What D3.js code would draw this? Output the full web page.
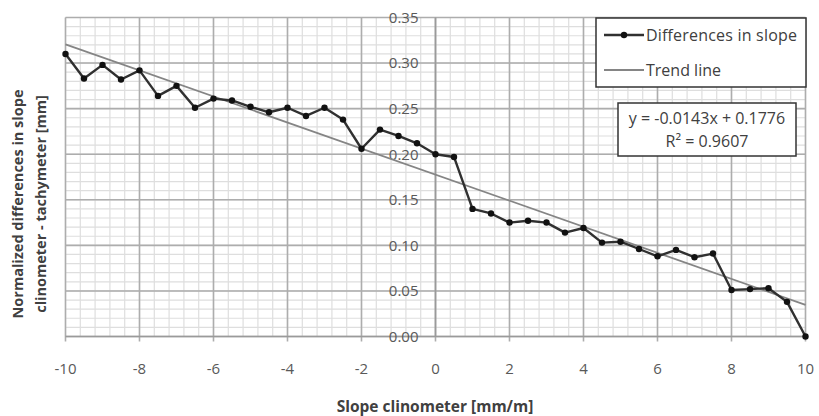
<!DOCTYPE html>
<html><head><meta charset="utf-8">
<script src="https://cdn.jsdelivr.net/npm/d3@7"></script>
<style>body{margin:0;background:#fff}svg{display:block}</style>
</head><body>
<svg id="c" width="819" height="416"></svg>
<script>
const xValues = [-10,-9.5,-9,-8.5,-8,-7.5,-7,-6.5,-6,-5.5,-5,-4.5,-4,-3.5,-3,-2.5,-2,-1.5,-1,-0.5,0,0.5,1,1.5,2,2.5,3,3.5,4,4.5,5,5.5,6,6.5,7,7.5,8,8.5,9,9.5,10];
const diffValues = [0.310,0.283,0.298,0.282,0.292,0.264,0.275,0.251,0.261,0.259,0.252,0.246,0.251,0.242,0.251,0.238,0.206,0.227,0.220,0.212,0.200,0.197,0.140,0.135,0.125,0.127,0.125,0.114,0.119,0.103,0.104,0.096,0.088,0.095,0.087,0.091,0.051,0.052,0.053,0.038,0.000];
const xTicks = [-10,-8,-6,-4,-2,0,2,4,6,8,10];
const yTicks = [0,0.05,0.10,0.15,0.20,0.25,0.30,0.35];
const trendSlope = -0.0143, trendIntercept = 0.1776;
const legendLabels = ["Differences in slope","Trend line"];
const eqLines = ["y = -0.0143x + 0.1776","R² = 0.9607"];

const svg = d3.select("#c");
const x = d3.scaleLinear().domain([-10,10]).range([65.5,805.5]);
const y = d3.scaleLinear().domain([0,0.35]).range([336.5,17.5]);
const font = "'Open Sans', sans-serif";

// minor grid
const g = svg.append("g");
g.selectAll(".mx").data(d3.range(-10,10.001,0.4)).join("line")
  .attr("x1",d=>x(d)).attr("x2",d=>x(d)).attr("y1",y(0)).attr("y2",y(0.35))
  .attr("stroke","#dedede").attr("stroke-width",1.2);
g.selectAll(".my").data(d3.range(0,0.3501,0.01)).join("line")
  .attr("y1",d=>y(d)).attr("y2",d=>y(d)).attr("x1",x(-10)).attr("x2",x(10))
  .attr("stroke","#dedede").attr("stroke-width",1.2);
// major grid
g.selectAll(".Mx").data(xTicks).join("line")
  .attr("x1",d=>x(d)).attr("x2",d=>x(d)).attr("y1",y(0)+5).attr("y2",y(0.35))
  .attr("stroke","#adadad").attr("stroke-width",1.6);
g.selectAll(".My").data(yTicks).join("line")
  .attr("y1",d=>y(d)).attr("y2",d=>y(d)).attr("x1",x(-10)).attr("x2",x(10))
  .attr("stroke","#adadad").attr("stroke-width",1.6);
// axes lines
svg.append("line").attr("x1",x(0)).attr("x2",x(0)).attr("y1",y(0)).attr("y2",y(0.35)).attr("stroke","#9a9a9a").attr("stroke-width",1.6);
svg.append("line").attr("x1",x(-10)).attr("x2",x(10)).attr("y1",y(0)).attr("y2",y(0)).attr("stroke","#9a9a9a").attr("stroke-width",1.6);

// tick labels
svg.selectAll(".yl").data(yTicks).join("text")
  .attr("x",x(0)-17).attr("y",d=>y(d)).attr("dy","0.36em").attr("text-anchor","end")
  .attr("font-family",font).attr("font-size",15).attr("fill","#595959")
  .text(d=>d3.format(".2f")(d));
svg.selectAll(".xl").data(xTicks).join("text")
  .attr("x",d=>x(d)).attr("y",374).attr("text-anchor","middle")
  .attr("font-family",font).attr("font-size",15).attr("fill","#595959")
  .text(d=>d);

// trend line
svg.append("line")
  .attr("x1",x(-10)).attr("y1",y(trendSlope*-10+trendIntercept))
  .attr("x2",x(10)).attr("y2",y(trendSlope*10+trendIntercept))
  .attr("stroke","#858585").attr("stroke-width",1.8);

// data line
const pts = xValues.map((v,i)=>[v,diffValues[i]]);
svg.append("path").datum(pts)
  .attr("d",d3.line().x(d=>x(d[0])).y(d=>y(d[1])))
  .attr("fill","none").attr("stroke","#303030").attr("stroke-width",2.4).attr("stroke-linejoin","round");
svg.selectAll(".pt").data(pts).join("circle")
  .attr("cx",d=>x(d[0])).attr("cy",d=>y(d[1])).attr("r",3.2).attr("fill","#111");

// legend
const lg = svg.append("g");
lg.append("rect").attr("x",596).attr("y",18).attr("width",210).attr("height",69)
  .attr("fill","#fff").attr("stroke","#333").attr("stroke-width",1.5);
lg.append("line").attr("x1",604).attr("x2",644).attr("y1",35).attr("y2",35).attr("stroke","#303030").attr("stroke-width",2.4);
lg.append("circle").attr("cx",624).attr("cy",35).attr("r",3.2).attr("fill","#111");
lg.append("line").attr("x1",604).attr("x2",644).attr("y1",70).attr("y2",70).attr("stroke","#858585").attr("stroke-width",1.8);
lg.selectAll(".lt").data(legendLabels).join("text")
  .attr("x",646).attr("y",(d,i)=>35+i*35).attr("dy","0.36em")
  .attr("font-family",font).attr("font-size",16).attr("fill","#404040")
  .attr("textLength",(d,i)=>i===0?151:null).text(d=>d);

// equation box
const eg = svg.append("g");
eg.append("rect").attr("x",618).attr("y",103).attr("width",178).attr("height",53)
  .attr("fill","#fff").attr("stroke","#333").attr("stroke-width",1.5);
eg.selectAll("text").data(eqLines).join("text")
  .attr("x",707).attr("y",(d,i)=>118+i*23.5).attr("dy","0.36em").attr("text-anchor","middle")
  .attr("font-family",font).attr("font-size",16).attr("fill","#404040").text(d=>d);

// axis titles
svg.append("text").attr("x",435).attr("y",412).attr("text-anchor","middle")
  .attr("font-family",font).attr("font-size",15.5).attr("font-weight","bold").attr("fill","#404040")
  .text("Slope clinometer [mm/m]");
const yt = svg.append("text").attr("transform","translate(0,204) rotate(-90)")
  .attr("text-anchor","middle").attr("font-family",font).attr("font-size",14.5).attr("font-weight","bold").attr("fill","#404040");
yt.append("tspan").attr("x",0).attr("y",23).text("Normalized differences in slope");
yt.append("tspan").attr("x",0).attr("y",46).text("clinometer - tachymeter [mm]");
</script>
</body></html>
